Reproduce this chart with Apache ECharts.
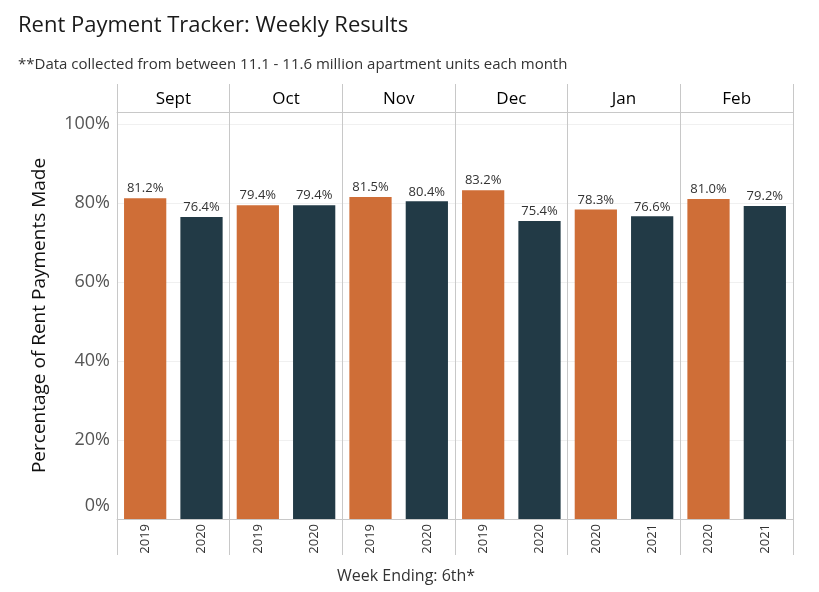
<!DOCTYPE html>
<html><head><meta charset="utf-8">
<script src="https://cdn.jsdelivr.net/npm/echarts@6/dist/echarts.min.js"></script>
<style>html,body{margin:0;padding:0;background:#fff}#c{width:819px;height:592px}</style>
</head><body><div id="c"></div>
<script>
var months = ['Sept', 'Oct', 'Nov', 'Dec', 'Jan', 'Feb'];
var years = ['2019', '2020', '2019', '2020', '2019', '2020', '2019', '2020', '2020', '2021', '2020', '2021'];
var values = [81.2, 76.4, 79.4, 79.4, 81.5, 80.4, 83.2, 75.4, 78.3, 76.6, 81.0, 79.2];
var yTicks = [0, 20, 40, 60, 80, 100];
var colors = ['#CF6E37', '#223A46'];
var FONT = 'Open Sans';
var chart = echarts.init(document.getElementById('c'));
chart.setOption({
  backgroundColor: '#fff',
  textStyle: { fontFamily: FONT },
  title: [
    { text: 'Rent Payment Tracker: Weekly Results', left: 18, top: 15, padding: 0,
      textStyle: { fontFamily: FONT, fontSize: 22, fontWeight: 'normal', color: '#1a1a1a' } },
    { text: '**Data collected from between 11.1 - 11.6 million apartment units each month', left: 18, top: 57, padding: 0,
      textStyle: { fontFamily: FONT, fontSize: 15, fontWeight: 'normal', color: '#333' } },
    { text: 'Week Ending: 6th*', left: 337, top: 568, padding: 0,
      textStyle: { fontFamily: FONT, fontSize: 16, fontWeight: 'normal', color: '#333' } }
  ],
  grid: { left: 117, right: 26, top: 112, bottom: 73, containLabel: false },
  xAxis: [
    { type: 'category', data: years, position: 'bottom', gridIndex: 0,
      axisLine: { show: true, lineStyle: { color: '#c8c8c8' } },
      axisTick: { show: false },
      axisLabel: { rotate: 90, margin: 5, fontSize: 13, color: '#333', fontFamily: FONT },
      splitLine: { show: false } },
    { type: 'category', data: months, position: 'top', gridIndex: 0,
      axisLine: { show: true, lineStyle: { color: '#c8c8c8' } },
      axisTick: { show: true, length: 28, lineStyle: { color: '#c8c8c8' } },
      axisLabel: { margin: 4, fontSize: 17, color: '#000', fontFamily: FONT },
      splitLine: { show: true, lineStyle: { color: '#c8c8c8' } } },
    { type: 'category', data: months, position: 'bottom', gridIndex: 0,
      axisLine: { show: false },
      axisTick: { show: true, length: 36, lineStyle: { color: '#c8c8c8' } },
      axisLabel: { show: false },
      splitLine: { show: false } }
  ],
  yAxis: {
    type: 'value', min: 0, max: 103, interval: 20,
    name: 'Percentage of Rent Payments Made', nameLocation: 'middle', nameGap: 68,
    nameTextStyle: { fontSize: 19, color: '#111', fontFamily: FONT },
    axisLine: { show: true, lineStyle: { color: '#c8c8c8' } },
    axisTick: { show: false },
    axisLabel: {
      margin: 7, fontSize: 18, color: '#555', fontFamily: FONT,
      formatter: function (v) {
        if (yTicks.indexOf(v) < 0) return '';
        return v === 0 ? '{z|0%}' : v + '%';
      },
      rich: { z: { fontSize: 18, color: '#555', fontFamily: FONT, padding: [0, 0, 26, 0] } }
    },
    splitLine: { show: true, lineStyle: { color: '#f0f0f0' } }
  },
  series: [{
    type: 'bar', xAxisIndex: 0, data: values, barCategoryGap: '25%',
    itemStyle: { color: function (p) { return colors[p.dataIndex % 2]; } },
    label: { show: true, position: 'top', distance: 3, fontSize: 13, color: '#333', fontFamily: FONT,
      formatter: function (p) { return p.value.toFixed(1) + '%'; } }
  }]
});
</script></body></html>
